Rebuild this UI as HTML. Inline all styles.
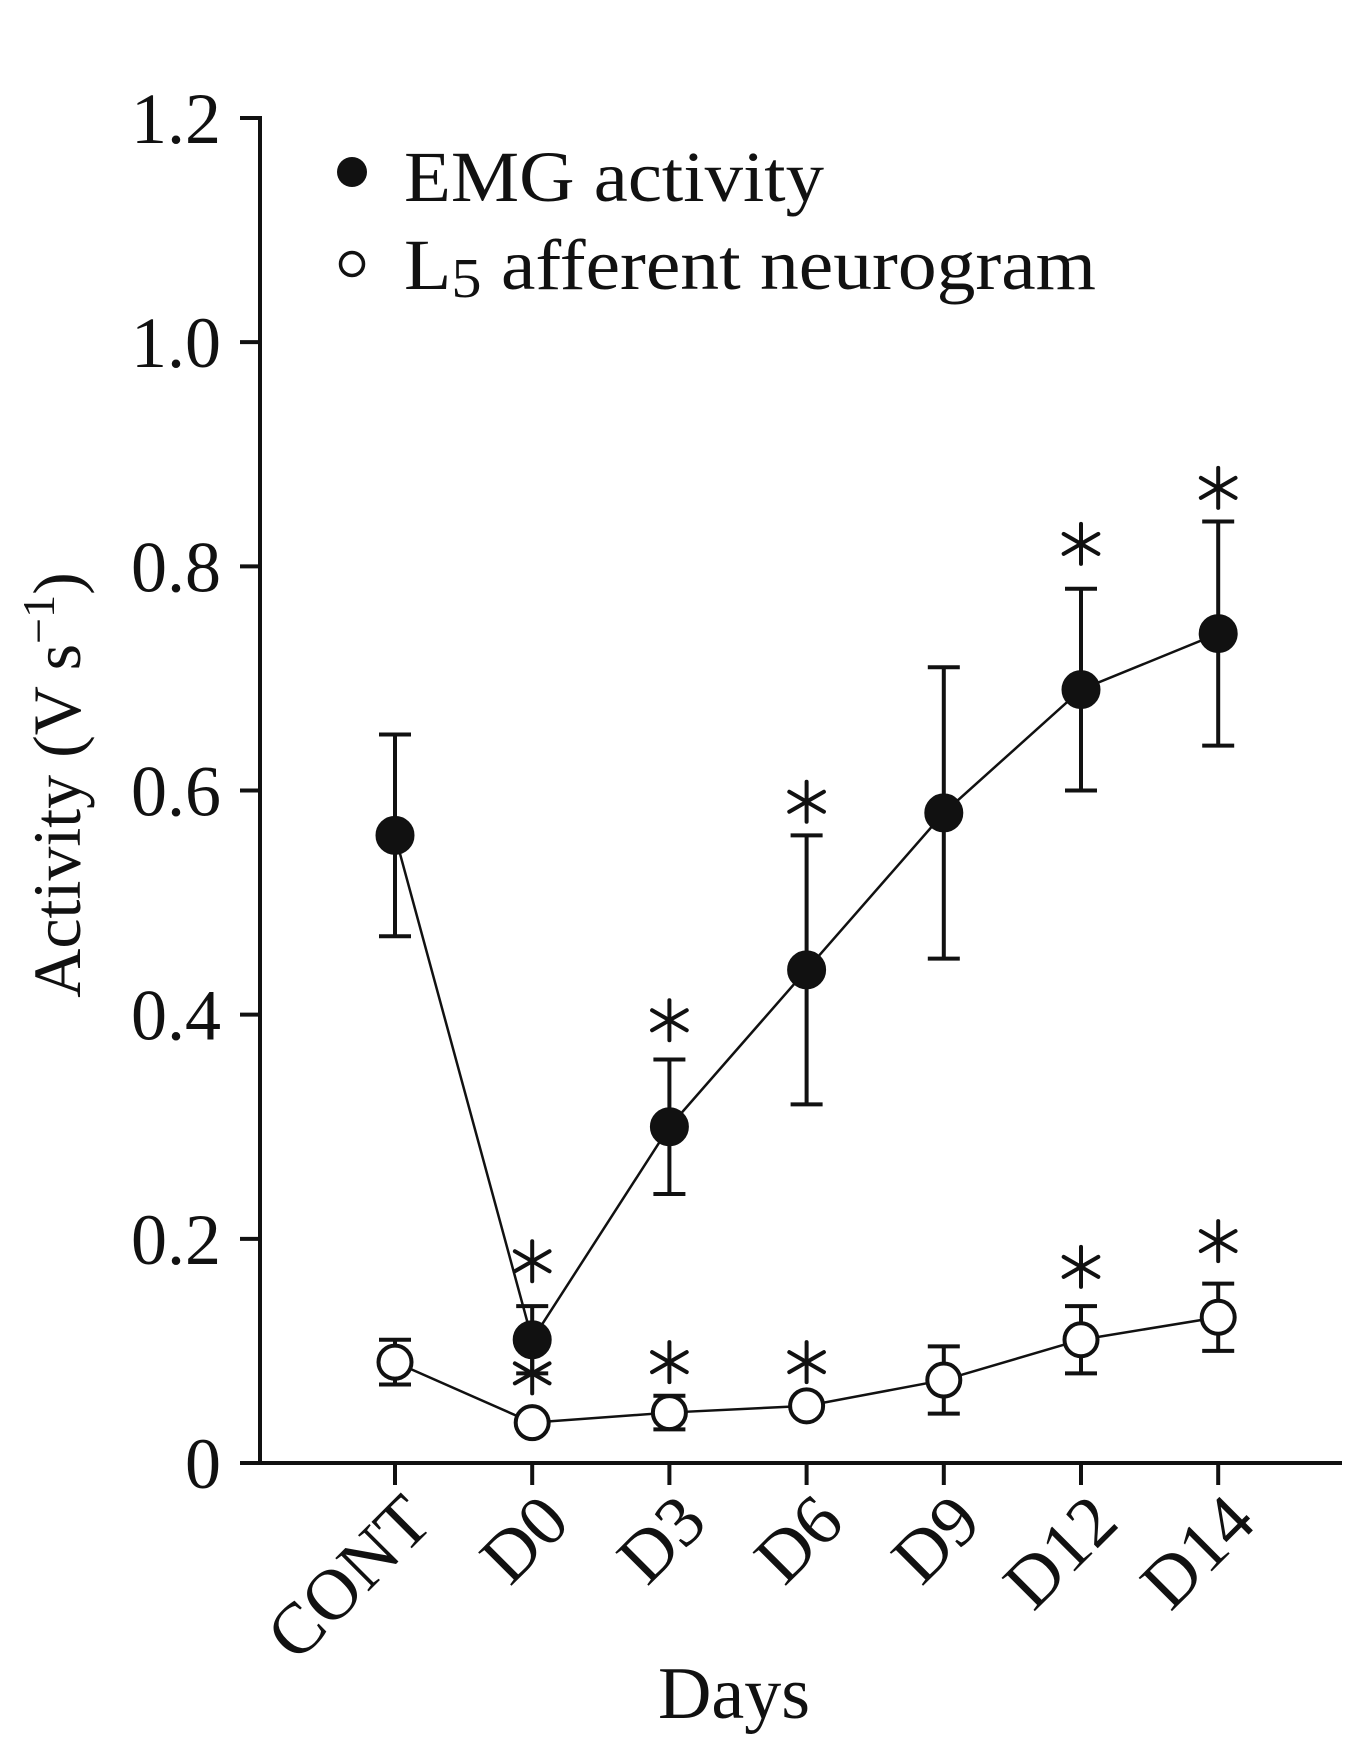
<!DOCTYPE html>
<html><head><meta charset="utf-8"><style>
html,body{margin:0;padding:0;background:#fff;}
svg{display:block;}
text{font-family:"Liberation Serif",serif;fill:#111;}
</style></head><body>
<svg id="chart" width="1358" height="1757" viewBox="0 0 1358 1757" xmlns="http://www.w3.org/2000/svg">
<g id="axes"></g>
<g id="plot"></g>
<g>
 <circle cx="352" cy="172" r="15" fill="#111"/>
 <text x="404" y="201" font-size="72" textLength="420" lengthAdjust="spacingAndGlyphs">EMG activity</text>
 <circle cx="352" cy="264" r="11.5" fill="#fff" stroke="#111" stroke-width="3.5"/>
 <text x="404" y="289" font-size="72" textLength="692" lengthAdjust="spacingAndGlyphs">L<tspan font-size="56" dy="8">5</tspan><tspan dy="-8"> afferent neurogram</tspan></text>
</g>
<text transform="translate(80,785) rotate(-90)" text-anchor="middle" font-size="68">Activity (V s<tspan font-size="46" dy="-26">−1</tspan><tspan dy="26">)</tspan></text>
<text x="734" y="1718" text-anchor="middle" font-size="74">Days</text>
</svg>
<script>
const categories = ["CONT","D0","D3","D6","D9","D12","D14"];
const emgValues = [0.56,0.11,0.30,0.44,0.58,0.69,0.74];
const emgErrors = [0.09,0.03,0.06,0.12,0.13,0.09,0.10];
const l5Values = [0.09,0.036,0.045,0.051,0.074,0.11,0.13];
const l5Errors = [0.02,0,0.015,0,0.03,0.03,0.03];
const emgStars = [null,0.18,0.395,0.59,null,0.82,0.87];
const l5Stars = [null,0.08,0.09,0.09,null,0.175,0.198];
const yTicks = [0,0.2,0.4,0.6,0.8,1.0,1.2];
const yTickLabels = ["0","0.2","0.4","0.6","0.8","1.0","1.2"];

const NS="http://www.w3.org/2000/svg";
const X0=260, Y0=1463, YTOP=118, XEND=1342;
function yScale(v){return Y0-(v/1.2)*(Y0-YTOP);}
function xScale(i){return 395+i*137.2;}
function mk(tag,attrs,parent){const e=document.createElementNS(NS,tag);for(const k in attrs)e.setAttribute(k,attrs[k]);parent.appendChild(e);return e;}
const axes=document.getElementById('axes'), plot=document.getElementById('plot');

let a=mk('line',{x1:X0,y1:YTOP-2,x2:X0,y2:Y0+2,stroke:'#111','stroke-width':4},axes);


a=mk('line',{x1:X0-2,y1:Y0,x2:XEND,y2:Y0,stroke:'#111','stroke-width':4},axes);


yTicks.forEach((v,i)=>{
  const y=yScale(v);
  const t=mk('line',{x1:X0-20,y1:y,x2:X0,y2:y,stroke:'#111','stroke-width':4},axes);
  
  
  const l=mk('text',{x:221,y:y+25,'text-anchor':'end','font-size':72},axes);
  l.textContent=yTickLabels[i];
  
  
});
categories.forEach((c,i)=>{
  const x=xScale(i);
  const t=mk('line',{x1:x,y1:Y0,x2:x,y2:Y0+22,stroke:'#111','stroke-width':4},axes);
  
  
  const l=mk('text',{transform:`translate(${x+40},${1525}) rotate(-45)`,'text-anchor':'end','font-size':72},axes);
  l.textContent=c;
  
  
});

function series(vals,errs,filled,name){
  const pts=vals.map((v,i)=>xScale(i)+','+yScale(v)).join(' ');
  const pl=mk('polyline',{points:pts,fill:'none',stroke:'#111','stroke-width':2.5},plot);
  
  
  vals.forEach((v,i)=>{
    const x=xScale(i), e=errs[i];
    if(e>0){
      const g=mk('g',{stroke:'#111','stroke-width':4},plot);
      
      
      mk('line',{x1:x,y1:yScale(v+e),x2:x,y2:yScale(v-e)},g);
      mk('line',{x1:x-16,y1:yScale(v+e),x2:x+16,y2:yScale(v+e)},g);
      mk('line',{x1:x-16,y1:yScale(v-e),x2:x+16,y2:yScale(v-e)},g);
    }
  });
  vals.forEach((v,i)=>{
    const c=mk('circle',{cx:xScale(i),cy:yScale(v),r:filled?19:16.5,fill:filled?'#111':'#fff',stroke:'#111','stroke-width':filled?1:4},plot);
    
    
  });
}
function stars(arr,name){
  arr.forEach((v,i)=>{
    if(v===null)return;
    const cx=xScale(i), cy=yScale(v), r=20;
    const g=mk('g',{stroke:'#111','stroke-width':4,'stroke-linecap':'round'},plot);
    
    
    [90,30,150].forEach(d=>{
      const rad=d*Math.PI/180, dx=r*Math.cos(rad), dy=r*Math.sin(rad);
      mk('line',{x1:cx-dx,y1:cy-dy,x2:cx+dx,y2:cy+dy},g);
    });
  });
}
series(l5Values,l5Errors,false,'l5');
series(emgValues,emgErrors,true,'emg');
stars(emgStars,'emg');
stars(l5Stars,'l5');
</script>
</body></html>
